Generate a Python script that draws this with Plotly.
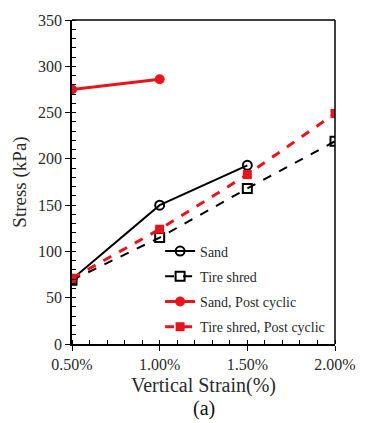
import plotly.graph_objects as go

strain = [0.5, 1.0, 1.5, 2.0]
sand = [70, 150, 193]
tire = [69, 115, 168, 219]
sand_post = [275, 286]
tire_post = [71, 124, 183, 249]
x_ticks = [0.5, 1.0, 1.5, 2.0]
x_labels = ["0.50%", "1.00%", "1.50%", "2.00%"]
y_ticks = [0, 50, 100, 150, 200, 250, 300, 350]

FONT = "Liberation Serif"
RED = "#e8141b"
TXT = "#2a2a2a"

fig = go.Figure()
fig.add_trace(go.Scatter(x=strain[:3], y=sand, name="Sand", mode="lines+markers",
                         line=dict(color="black", width=2),
                         marker=dict(symbol="circle-open", size=9, color="black", line=dict(width=2)),
                         legendgroup="a"))
fig.add_trace(go.Scatter(x=strain, y=tire, name="Tire shred", mode="lines+markers",
                         line=dict(color="black", width=2, dash="dash"),
                         marker=dict(symbol="square-open", size=9, color="black", line=dict(width=2)),
                         legendgroup="b"))
fig.add_trace(go.Scatter(x=strain[:2], y=sand_post, name="Sand, Post cyclic", mode="lines+markers",
                         line=dict(color=RED, width=3),
                         marker=dict(symbol="circle", size=10, color=RED),
                         legendgroup="c"))
fig.add_trace(go.Scatter(x=strain, y=tire_post, name="Tire shred, Post cyclic", mode="lines+markers",
                         line=dict(color=RED, width=3, dash="dash"),
                         marker=dict(symbol="square", size=9, color=RED),
                         legendgroup="d"))

fig.update_layout(
    width=368, height=423,
    margin=dict(l=72, r=22, t=18, b=79),
    paper_bgcolor="white", plot_bgcolor="white",
    font=dict(family=FONT, size=16, color=TXT),
    showlegend=True,
    legend=dict(x=0.335, y=0.335, xanchor="left", yanchor="top",
                bgcolor="rgba(0,0,0,0)", font=dict(size=14, family=FONT, color=TXT),
                tracegroupgap=4, itemwidth=30),
    annotations=[dict(text="(a)", x=0.5, y=-0.2, xref="paper", yref="paper",
                      showarrow=False, font=dict(size=20, family=FONT, color="#111"),
                      xanchor="center", yanchor="middle")],
    shapes=[
        dict(type="line", xref="paper", yref="paper", x0=0, x1=1, y0=1, y1=1,
             line=dict(color="black", width=1.5)),
        dict(type="line", xref="paper", yref="paper", x0=1, x1=1, y0=0, y1=1,
             line=dict(color="black", width=1.5)),
    ],
)
fig.update_xaxes(range=[0.5, 2.0], tickvals=x_ticks, ticktext=x_labels,
                 showgrid=False, zeroline=False, showline=True, linecolor="black",
                 linewidth=1.5, mirror=False, ticks="outside", ticklen=5, tickcolor="black",
                 minor=dict(ticks="inside", ticklen=4, dtick=0.1, tickcolor="black", showgrid=False),
                 title=dict(text="Vertical Strain(%)", font=dict(size=20, family=FONT, color=TXT), standoff=6),
                 tickfont=dict(size=16, family=FONT, color=TXT))
fig.update_yaxes(range=[0, 350], tickvals=y_ticks,
                 showgrid=False, zeroline=False, showline=True, linecolor="black",
                 linewidth=1.5, mirror=False, ticks="outside", ticklen=5, tickcolor="black",
                 minor=dict(ticks="inside", ticklen=4, dtick=10, tickcolor="black", showgrid=False),
                 title=dict(text="Stress (kPa)", font=dict(size=19, family=FONT, color=TXT), standoff=6),
                 tickfont=dict(size=16, family=FONT, color=TXT))

fig.write_html("out.html")
